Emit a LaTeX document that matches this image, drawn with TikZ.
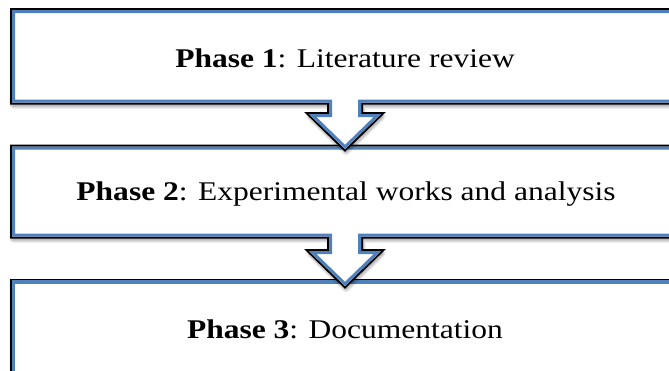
\documentclass[tikz,border=0pt]{standalone}
\usepackage{fontspec}
\setmainfont{Liberation Serif}
\definecolor{edgeblue}{HTML}{4F81BD}
\tikzset{
  shadowline/.style={draw=black, opacity=0.06, line join=round},
  outerline/.style={draw=black, line width=4pt, line join=miter},
  innerline/.style={draw=edgeblue, line width=6pt, line join=miter},
  phase/.style={font=\fontsize{27}{27}\selectfont, inner sep=0pt, anchor=base}
}
\newcommand\drawcallout[1]{%
  \foreach \w in {1.5,3,4.5,6,7.5}{\draw[shadowline, line width=\w pt, shift={(1,2.5)}] #1;}
  \draw[outerline] #1;
  \fill[white] #1;
  \begin{scope}\clip #1; \draw[innerline] #1; \end{scope}%
}
\begin{document}
\begin{tikzpicture}[x=1pt,y=-1pt]
\useasboundingbox (0,0) rectangle (669,370);
\fill[white] (0,0) rectangle (669,370);
% Phase 3 box
\drawcallout{(12,280.5) -- (690,280.5) -- (690,420) -- (12,420) -- cycle}
% Phase 2 box with arrow
\drawcallout{(12,146.5) -- (690,146.5) -- (690,236.5) -- (361,236.5) -- (361,251) -- (381,251) -- (345,286) -- (309,251) -- (329,251) -- (329,236.5) -- (12,236.5) -- cycle}
% Phase 1 box with arrow
\drawcallout{(12,10) -- (690,10) -- (690,102.5) -- (361,102.5) -- (361,114) -- (381,114) -- (345,149) -- (309,114) -- (329,114) -- (329,102.5) -- (12,102.5) -- cycle}
\node[phase] (p1) at (345,67) {\scalebox{1.167}[1]{\textbf{Phase 1}: Literature review}};
\node[phase] (p2) at (346,200.5) {\scalebox{1.167}[1]{\textbf{Phase 2}: Experimental works and analysis}};
\node[phase] (p3) at (345,338) {\scalebox{1.167}[1]{\textbf{Phase 3}: Documentation}};
\end{tikzpicture}
\end{document}
